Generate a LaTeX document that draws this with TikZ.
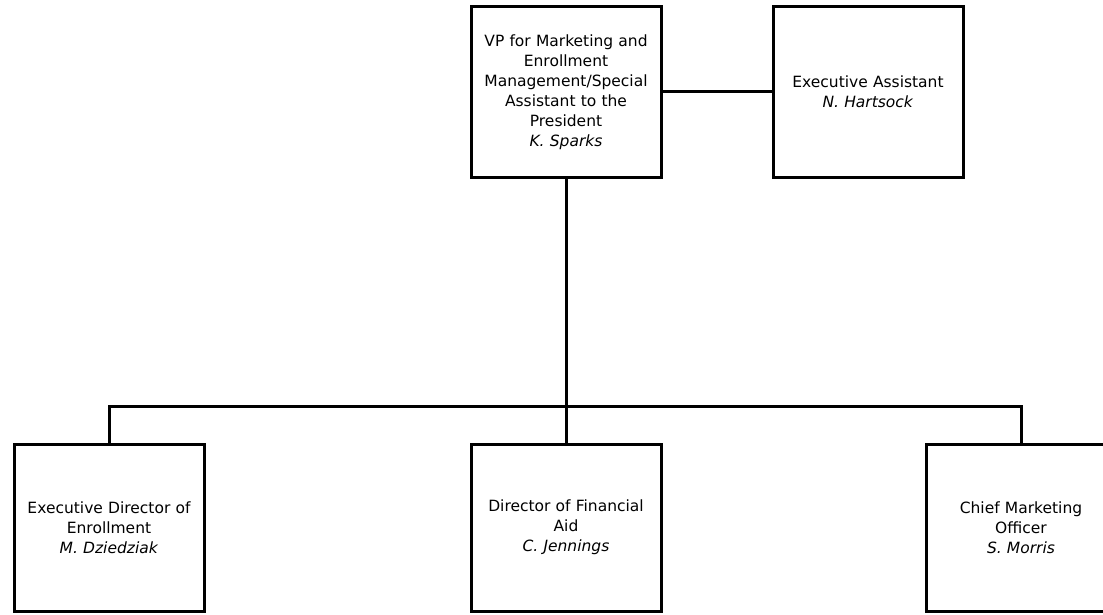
\documentclass[tikz,border=0pt]{standalone}
\usepackage{fontspec}
\setmainfont{DejaVu Sans}
\begin{document}
\begin{tikzpicture}[x=1pt,y=-1pt,
  box/.style={draw,line width=3pt,minimum width=190pt,minimum height=170pt,inner sep=0pt,
    align=center,text width=185pt,font=\fontsize{15.5}{20}\selectfont},
  lowbox/.style={box,minimum height=167pt},
  link/.style={line width=3pt}]
\useasboundingbox (0,0) rectangle (1103,615);
\node[box] (vp) at (566,92) {VP for Marketing and\\Enrollment\\Management/Special\\Assistant to the\\President\\\textit{K. Sparks}};
\node[box] (ea) at (868,92) {Executive Assistant\\\textit{N. Hartsock}};
\node[lowbox] (edir) at (109,527.5) {Executive Director of\\Enrollment\\\textit{M. Dziedziak}};
\node[lowbox] (dfa) at (566,527.5) {Director of Financial\\Aid\\\textit{C. Jennings}};
\node[lowbox] (cmo) at (1021,527.5) {Chief Marketing\\Officer\\\textit{S. Morris}};
\draw[link] (vp.east) -- (ea.west);
\draw[link] (vp.south) -- (dfa.north);
\draw[link] (edir.north) -- ++(0,-36) -| (cmo.north);
\end{tikzpicture}
\end{document}
